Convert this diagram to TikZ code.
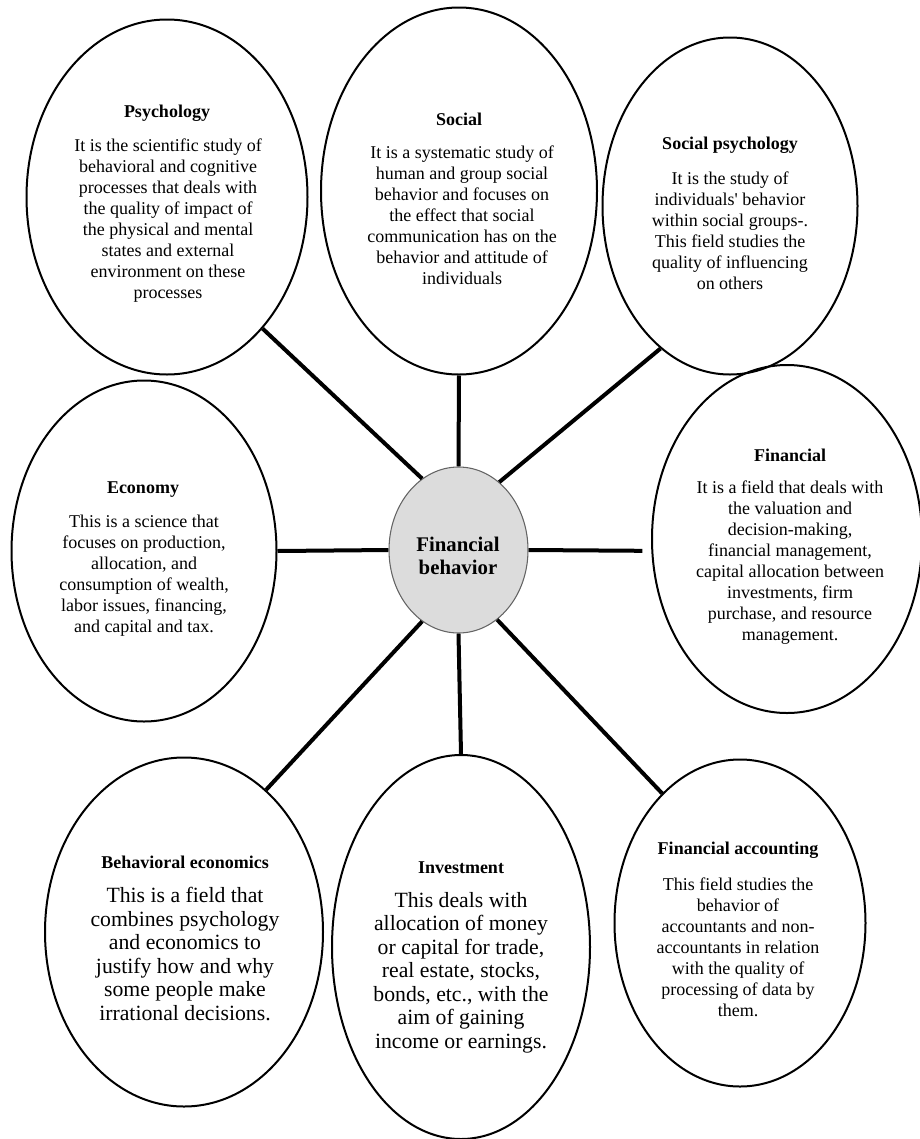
\documentclass[tikz,border=0pt]{standalone}
\usepackage{fontspec}
\setmainfont{Liberation Serif}[Ligatures=TeXOff]
\usetikzlibrary{shapes.geometric}
\definecolor{fbfill}{RGB}{220,220,220}
\definecolor{fbline}{RGB}{100,100,100}
\tikzset{
  bub/.style={ellipse, draw=black, line width=1.5pt, inner sep=0pt},
  conn/.style={line width=3pt},
  ttl/.style={font=\bfseries\fontsize{13.5}{15.75}\selectfont, inner sep=0pt},
  bdy/.style={font=\fontsize{13.5}{15.75}\selectfont, align=center, inner sep=0pt},
  bdyL/.style={font=\fontsize{16.3}{17.6}\selectfont, align=center, inner sep=0pt},
}
\begin{document}
\begin{tikzpicture}[x=0.75pt,y=-0.75pt]
\useasboundingbox (0,0) rectangle (920,1139);
\clip (0,0) rectangle (920,1139);

% bubbles
\node[bub, minimum width=210.75pt, minimum height=266.25pt] (psy) at (167,197) {};
\node[bub, minimum width=207pt, minimum height=275.25pt] (soc) at (459,191) {};
\node[bub, minimum width=191.25pt, minimum height=252.75pt] (socpsy) at (730,206) {};
\node[bub, minimum width=198.75pt, minimum height=255.75pt] (econ) at (144,551) {};
\node[bub, minimum width=202.5pt, minimum height=261pt] (fin) at (787,539) {};
\node[bub, minimum width=208.5pt, minimum height=261.75pt] (beh) at (184,932) {};
\node[bub, minimum width=193.5pt, minimum height=288pt] (inv) at (461,947) {};
\node[bub, minimum width=188.25pt, minimum height=245.25pt] (facc) at (740,923) {};
\node[ellipse, draw=fbline, fill=fbfill, line width=0.8pt, inner sep=0pt,
      minimum width=104.25pt, minimum height=124.5pt] (fb) at (458.5,550) {};

% connectors
\draw[conn] (psy.-54.2) -- (fb.117.5);
\draw[conn] (soc.-90) -- (fb.90);
\draw[conn] (socpsy.244.7) -- (fb.59.2);
\draw[conn] (econ.0) -- (fb.180);
\draw[conn, shorten >=6.75pt] (fb.0) -- (fin.185.5);
\draw[conn] (fb.243.8) -- (beh.60.3);
\draw[conn] (fb.-90) -- (inv.90);
\draw[conn] (fb.-61.8) -- (facc.121.4);

% texts
\node[font=\bfseries\fontsize{15.6}{17.5}\selectfont, align=center, inner sep=0pt] (fbT) at (458,556) {Financial\\behavior};

\node[ttl] (psyT) at (167,113) {Psychology};
\node[bdy] (psyB) at (168,221) {It is the scientific study of\\behavioral and cognitive\\processes that deals with\\the quality of impact of\\the physical and mental\\states and external\\environment on these\\processes};

\node[ttl] (socT) at (459,119) {Social};
\node[bdy] (socB) at (462,215.5) {It is a systematic study of\\human and group social\\behavior and focuses on\\the effect that social\\communication has on the\\behavior and attitude of\\individuals};

\node[ttl] (socpsyT) at (730,145) {Social psychology};
\node[bdy] (socpsyB) at (730,230.5) {It is the study of\\individuals' behavior\\within social groups-.\\This field studies the\\quality of influencing\\on others};

\node[ttl] (econT) at (143,490) {Economy};
\node[bdy] (econB) at (144,575.5) {This is a science that\\focuses on production,\\allocation, and\\consumption of wealth,\\labor issues, financing,\\and capital and tax.};

\node[ttl] (finT) at (790,455) {Financial};
\node[bdy] (finB) at (790,562.5) {It is a field that deals with\\the valuation and\\decision-making,\\financial management,\\capital allocation between\\investments, firm\\purchase, and resource\\management.};

\node[ttl] (behT) at (185,862) {Behavioral economics};
\node[bdyL] (behB) at (185,954) {This is a field that\\combines psychology\\and economics to\\justify how and why\\some people make\\irrational decisions.};

\node[ttl] (invT) at (461,868) {Investment};
\node[bdyL] (invB) at (461,972.5) {This deals with\\allocation of money\\or capital for trade,\\real estate, stocks,\\bonds, etc., with the\\aim of gaining\\income or earnings.};

\node[ttl] (faccT) at (738,850) {Financial accounting};
\node[bdy] (faccB) at (738,947) {This field studies the\\behavior of\\accountants and non-\\accountants in relation\\with the quality of\\processing of data by\\them.};
\end{tikzpicture}
\end{document}
